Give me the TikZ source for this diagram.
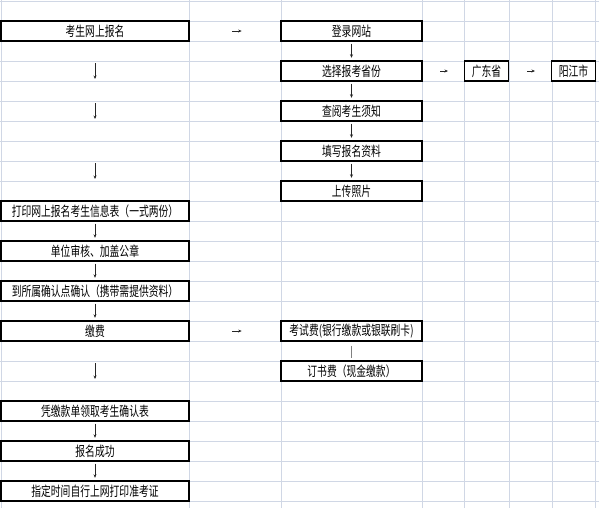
\documentclass[tikz,border=0pt]{standalone}
\usepackage{fontspec}
\usetikzlibrary{arrows.meta}
\newfontfamily\cjk[FakeStretch=0.72]{Noto Sans CJK SC}
\definecolor{gridline}{RGB}{208,215,229}
\tikzset{
  cell/.style={draw=black, line width=0.85pt, fill=white, inner sep=0pt,
    minimum height=15pt, font=\cjk\fontsize{10.2}{11}\selectfont},
  boxA/.style={cell, minimum width=188*0.75pt},
  boxC/.style={cell, minimum width=141*0.75pt},
  boxS/.style={cell, minimum width=44*0.75pt},
  darr/.style={-{Stealth[length=2.6pt,width=2.2pt]}, line width=0.65pt, black!85},
  rarr/.style={-{Stealth[length=2.6pt,width=2.2pt]}, line width=0.65pt, black!85}
}
\begin{document}
\begin{tikzpicture}[x=0.75pt,y=-0.75pt]
   \def\Xa{95}
   \def\Xb{237}
   \def\Xc{351.5}
   \def\Xd{444}
   \def\Xf{531}
   \def\Xe{486.5}
   \def\Xg{573.5}
   \useasboundingbox (0,0) rectangle (599,508);

        % grid
        \foreach \k in {0,...,25}
          \draw[gridline, line width=0.75pt] (0,1+20*\k) -- (599,1+20*\k);
        \foreach \x in {1,189,281,422,464,509,552,595}
          \draw[gridline, line width=0.75pt] (\x,0) -- (\x,508);

        % left column
        \node[boxA] (reg)     at (\Xa, 31)  {考生网上报名};
        \node[boxA] (print)   at (\Xa, 211) {打印网上报名考生信息表（一式两份）};
        \node[boxA] (audit)   at (\Xa, 251) {单位审核、加盖公章};
        \node[boxA] (confirm) at (\Xa, 291) {到所属确认点确认（携带需提供资料）};
        \node[boxA] (pay)     at (\Xa, 331) {缴费};
        \node[boxA] (receipt) at (\Xa, 411) {凭缴款单领取考生确认表};
        \node[boxA] (success) at (\Xa, 451) {报名成功};
        \node[boxA] (ticket)  at (\Xa, 491) {指定时间自行上网打印准考证};

        % middle column
        \node[boxC] (login)   at (\Xc, 31)  {登录网站};
        \node[boxC] (prov)    at (\Xc, 71)  {选择报考省份};
        \node[boxC] (notice)  at (\Xc, 111) {查阅考生须知};
        \node[boxC] (form)    at (\Xc, 151) {填写报名资料};
        \node[boxC] (photo)   at (\Xc, 191) {上传照片};
        \node[boxC] (examfee) at (\Xc, 331) {考试费(银行缴款或银联刷卡)};
        \node[boxC] (bookfee) at (\Xc, 371) {订书费（现金缴款）};

        % province, city
        \node[boxS] (gd) at (\Xe, 71) {广东省};
        \node[boxS] (yj) at (\Xg, 71) {阳江市};

        % arrows
        \foreach \r in {4,6,9,19}
          \coordinate (a\r) at (\Xa, 20*\r-9);
        \foreach \r in {4,6,9,19}
          \draw[darr] ([yshift=6pt]a\r) -- ([yshift=-6pt]a\r);
        \foreach \p/\q in {print/audit, audit/confirm, confirm/pay, receipt/success, success/ticket,
                           login/prov, prov/notice, notice/form, form/photo}
          \draw[darr, shorten <=1.5pt, shorten >=2pt] (\p.south) -- (\q.north);
        \draw[gray, line width=0.9pt, shorten <=3pt, shorten >=1.5pt] (examfee.south) -- (bookfee.north);

        \coordinate (b2)  at (\Xb, 31);
        \coordinate (b17) at (\Xb, 331);
        \coordinate (d4)  at (\Xd, 71);
        \coordinate (f4)  at (\Xf, 71);
        \foreach \c in {b2, b17}
          \draw[rarr] ([xshift=-3.5pt]\c) -- ([xshift=3.5pt]\c);
        \foreach \c in {d4, f4}
          \draw[rarr] ([xshift=-3pt]\c) -- ([xshift=3pt]\c);
\end{tikzpicture}
\end{document}
